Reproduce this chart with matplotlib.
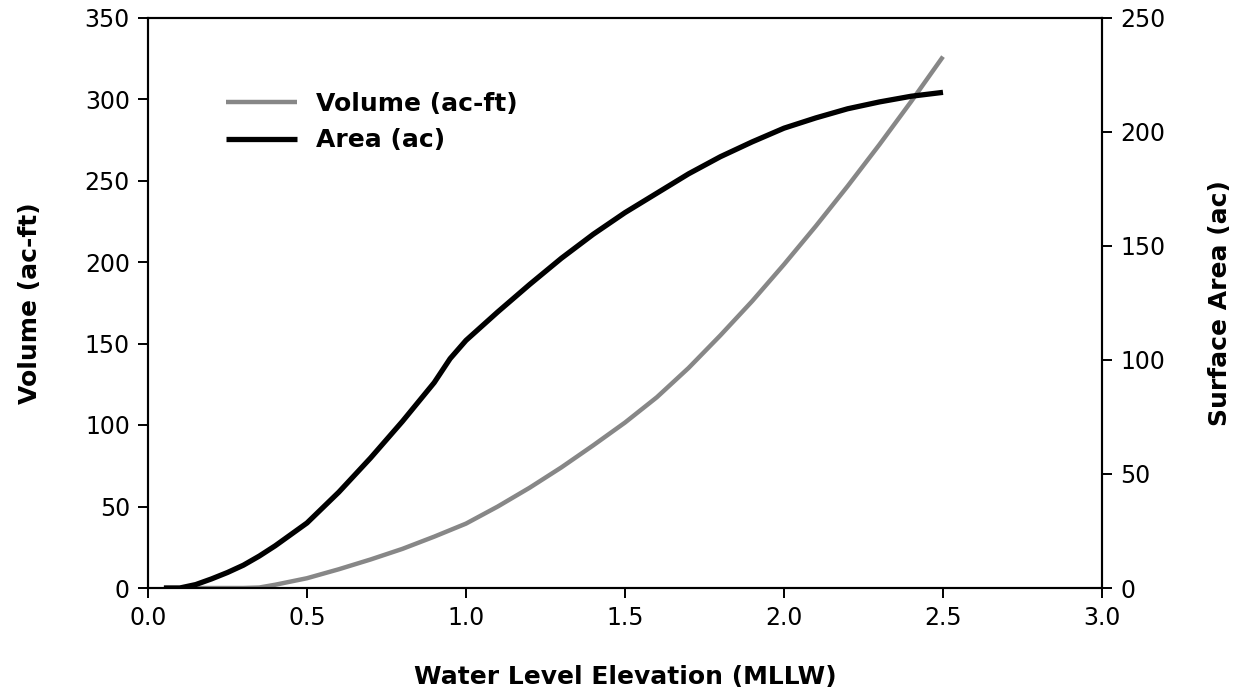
import matplotlib
matplotlib.use("Agg")
import matplotlib.pyplot as plt

plt.rcParams['font.family'] = ['DejaVu Sans']

# Water level elevation (MLLW)
elev = [0.05, 0.10, 0.15, 0.20, 0.25, 0.30, 0.35, 0.40, 0.50, 0.60, 0.70, 0.80, 0.90,
        0.95, 1.00, 1.10, 1.20, 1.30, 1.40, 1.50, 1.60, 1.70, 1.80, 1.90,
        2.00, 2.10, 2.20, 2.30, 2.40, 2.50]
# Volume (ac-ft), left axis
volume = [0, 0, 0, 0, 0, 0, 0.3, 2, 6, 11.5, 17.5, 24, 31.5,
          35.5, 39.5, 50, 61.5, 74, 87.5, 101.5, 117, 135, 155, 176,
          198.5, 222, 246.5, 272, 298.5, 326]
# Surface area (ac), right axis
area = [0, 0, 1.5, 4, 6.8, 10, 14, 18.5, 28.5, 42, 57, 73, 90,
        100.5, 108.5, 121, 133, 144.5, 155, 164.5, 173, 181.5, 189, 195.5,
        201.5, 206, 210, 213, 215.5, 217.2]

x_ticks = [0.0, 0.5, 1.0, 1.5, 2.0, 2.5, 3.0]
vol_ticks = [0, 50, 100, 150, 200, 250, 300, 350]
area_ticks = [0, 50, 100, 150, 200, 250]

fig = plt.figure(figsize=(12.47, 6.93), dpi=100)
ax = fig.add_axes([148/1247, 1 - 588/693, (1102-148)/1247, (588-17.5)/693])
ax2 = ax.twinx()

gray = '#878787'
l1, = ax.plot(elev, volume, color=gray, lw=3.2, solid_capstyle='butt',
              solid_joinstyle='round', label='Volume (ac-ft)')
l2, = ax2.plot(elev, area, color='black', lw=3.8, solid_capstyle='butt',
               solid_joinstyle='round', label='Area (ac)')

ax.set_xlim(0, 3.0)
ax.set_ylim(0, 350)
ax2.set_ylim(0, 250)
ax.set_xticks(x_ticks)
ax.set_xticklabels([f"{t:.1f}" for t in x_ticks])
ax.set_yticks(vol_ticks)
ax2.set_yticks(area_ticks)

fs = 17
for a in (ax, ax2):
    a.tick_params(direction='out', length=7, width=1.4, labelsize=fs, pad=6)
    for s in a.spines.values():
        s.set_linewidth(1.5)

lfs = 18
ax.set_xlabel('Water Level Elevation (MLLW)', fontsize=lfs, fontweight='bold')
ax.set_ylabel('Volume (ac-ft)', fontsize=lfs, fontweight='bold')
ax2.set_ylabel('Surface Area (ac)', fontsize=lfs, fontweight='bold')
ax.xaxis.set_label_coords(0.5, (588 - 677) / 570.5)
ax.yaxis.set_label_coords((30 - 148) / 954, 0.5)
ax2.yaxis.set_label_coords((1220 - 148) / 954, 0.5)
for lab in (ax.xaxis.label, ax.yaxis.label, ax2.yaxis.label):
    lab.set_va('center')
    lab.set_ha('center')

leg = fig.legend([l1, l2], ['Volume (ac-ft)', 'Area (ac)'],
                 loc='upper left', bbox_to_anchor=(226/1247, 1 - 92/693),
                 frameon=False, borderpad=0, borderaxespad=0,
                 handlelength=2.85, handletextpad=0.75, labelspacing=0.5,
                 prop={'weight': 'bold', 'size': lfs})

fig.savefig('out.png', dpi=100)
